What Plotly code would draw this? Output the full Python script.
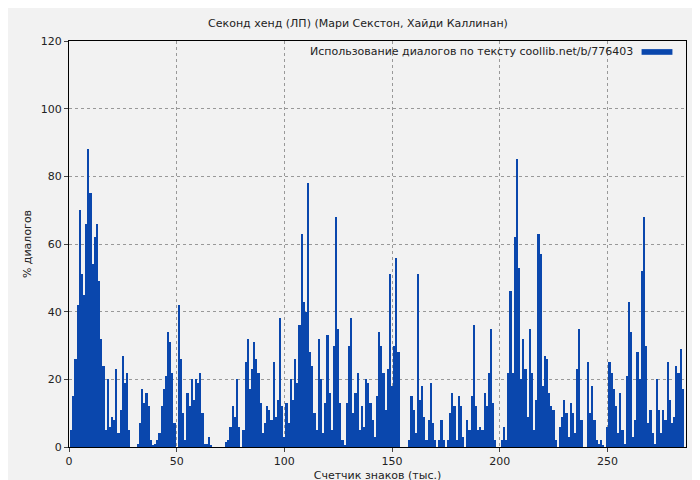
import plotly.graph_objects as go

values = [0,5,15,26,42,70,51,45,66,88,75,54,62,66,49,32,24,5,20,6,
          9,8,23,4,11,27,19,22,5,0,0,0,1,7,17,13,16,12,2,0.3,
          1,2,4,12,17,21,34,31,22,7,0,42,26,10,2,16,12,20,14,20,
          19,22,10,1,1,3,0.5,0,0,0,0,0,0,1.5,2,6,12,9,20,6,
          0,5,25,32,17,23,31,26,22,13,4,7,12,11,8,25,9,14,38,12,
          3,13,7,20,14,26,19,36,63,43,40,78,28,24,10,5,32,20,4,13,
          33,16,5,30,68,35,13,2,0.5,13,30,38,10,16,22,5,12,6,20,19,
          13,8,3,15,34,30,22,11,23,51,18,30,56,28,0,0,0,0,2,15,
          11,4,51,14,18,9,2,8,19,7,2,0,2,8,2,0,2,10,16,12,
          2,15,12,3,0,8,5,15,36,12,5,6,5,16,12,22,35,13,2,0,
          0,2,6,2,22,46,22,62,85,53,20,32,23,9,35,22,5,14,63,57,
          18,27,26,16,12,11,2,0,6,9,14,10,3,13,10,4,23,35,8,0,
          0,25,10,18,8,2,1,2,0.5,0,6,25,22,17,12,4,16,5,1,21,
          43,34,3,8,28,20,52,68,30,7,11,4,1,20,11,4,11,8,25,14,
          7,9,24,22,29,17]
chars = list(range(len(values)))

title = "Секонд хенд (ЛП) (Мари Секстон, Хайди Каллинан)"
legend_label = "Использование диалогов по тексту coollib.net/b/776403"
x_title = "Счетчик знаков (тыс.)"
y_title = "% диалогов"

fig = go.Figure(go.Bar(x=chars, y=values, marker=dict(color="#0a47ad", line=dict(width=0)),
                       width=1, showlegend=False))
fig.update_layout(
    width=700, height=480,
    margin=dict(l=61, r=22, t=33, b=41, autoexpand=False),
    paper_bgcolor="#f2f2f2", plot_bgcolor="#f2f2f2",
    font=dict(family="DejaVu Sans", size=11, color="#222"),
    title=dict(text=title, x=0.5, xanchor="center", y=0.968, yanchor="middle", font=dict(size=11)),
    bargap=0,
    xaxis=dict(range=[0, 286.5], tickvals=[0, 50, 100, 150, 200, 250], showgrid=True,
               gridcolor="#999", griddash="dot", showline=True, linecolor="black", mirror=True,
               ticks="outside", ticklen=4, zeroline=False, automargin=False,
               title=dict(text=x_title, standoff=4, font=dict(size=11))),
    yaxis=dict(range=[0, 120], tickvals=[0, 20, 40, 60, 80, 100, 120], showgrid=True,
               gridcolor="#999", griddash="dot", showline=True, linecolor="black", mirror=True,
               ticks="outside", ticklen=4, zeroline=False, automargin=False,
               title=dict(text=y_title, standoff=6, font=dict(size=11))),
)
fig.add_annotation(xref="paper", yref="paper", x=0.917, y=0.973, xanchor="right", yanchor="middle",
                   text=legend_label, showarrow=False, font=dict(size=11))
fig.add_shape(type="rect", xref="paper", yref="paper", x0=0.928, x1=0.978, y0=0.966, y1=0.980,
              fillcolor="#0a47ad", line=dict(width=0))
fig.write_html("out.html")
